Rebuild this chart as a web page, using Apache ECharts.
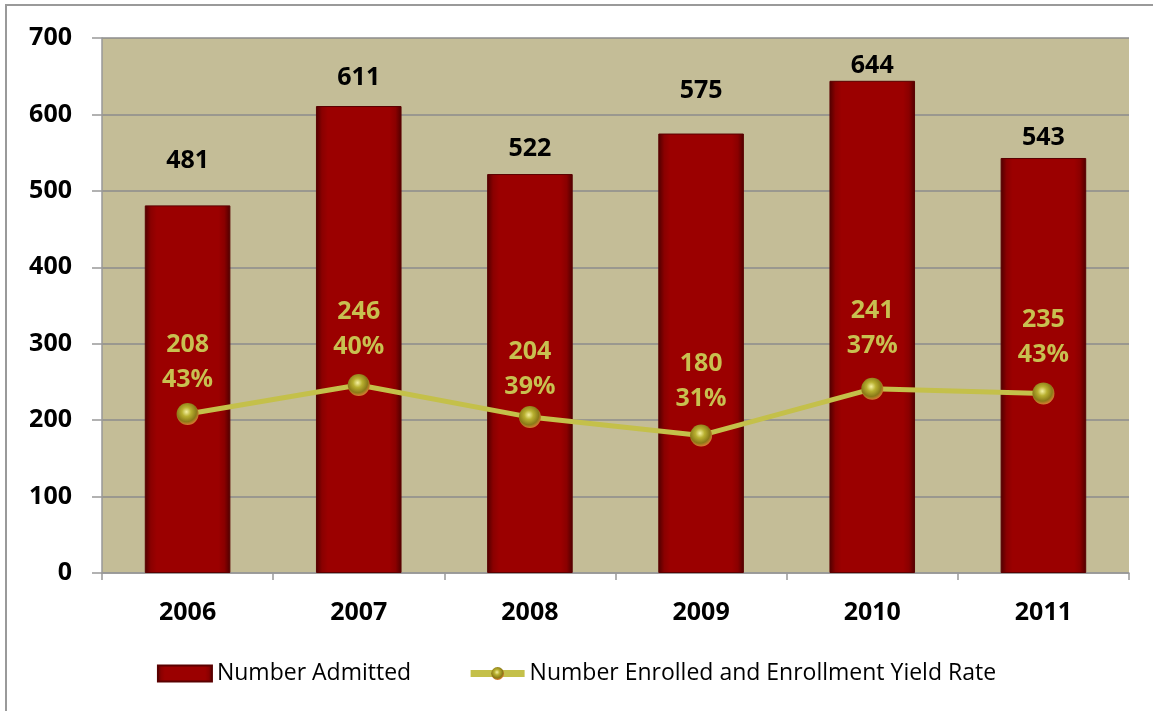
<!DOCTYPE html>
<html>
<head>
<meta charset="utf-8">
<script src="https://cdn.jsdelivr.net/npm/echarts@6/dist/echarts.min.js"></script>
<style>
  html, body { margin: 0; padding: 0; background: #fff; }
  #grafico { width: 1153px; height: 711px; }
</style>
</head>
<body>
<div id="grafico"></div>
<script>
// dados
var anos = ['2006', '2007', '2008', '2009', '2010', '2011'];
var admitidos = [481, 611, 522, 575, 644, 543];
var matriculados = [208, 246, 204, 180, 241, 235];
var taxas = ['43%', '40%', '39%', '31%', '37%', '43%'];

// os rótulos foram posicionados à mão no original
var distRotuloBarra = [32, 16, 13, 30, 2, 8];
var distRotuloLinha = [6, 10, 2, 8, 14, 10];

var fonte = '"Open Sans", "DejaVu Sans", sans-serif';

var corBarra = new echarts.graphic.LinearGradient(0, 0, 1, 0, [
    { offset: 0, color: '#4e0000' },
    { offset: 0.07, color: '#8a0000' },
    { offset: 0.14, color: '#9b0000' },
    { offset: 0.86, color: '#9b0000' },
    { offset: 0.93, color: '#8a0000' },
    { offset: 1, color: '#4e0000' }
]);

var corPonto = new echarts.graphic.RadialGradient(0.45, 0.4, 0.6, [
    { offset: 0, color: '#f4f0a0' },
    { offset: 0.35, color: '#b8b030' },
    { offset: 0.75, color: '#8a7a18' },
    { offset: 1, color: '#d87a30' }
]);

var grafico = echarts.init(document.getElementById('grafico'));

var option = {
    animation: false,
    backgroundColor: '#ffffff',
    graphic: [{
        type: 'rect',
        shape: { x: 6, y: 5, width: 1160, height: 720 },
        style: { fill: 'none', stroke: '#9a9a9a', lineWidth: 2 },
        silent: true
    }],
    grid: {
        left: 102, right: 24, top: 38, bottom: 138,
        show: true,
        backgroundColor: '#c4bd97',
        borderWidth: 0
    },
    legend: {
        bottom: 21,
        left: 'center',
        itemGap: 56,
        itemWidth: 54,
        itemHeight: 16,
        textStyle: { fontFamily: fonte, fontSize: 23, color: '#000' },
        data: [
            { name: 'Number Admitted', icon: 'rect' },
            {
                name: 'Number Enrolled and Enrollment Yield Rate',
                lineStyle: { width: 7 }
            }
        ]
    },
    xAxis: {
        type: 'category',
        data: anos,
        axisLine: { lineStyle: { color: '#999', width: 1.5 } },
        axisTick: { show: true, length: 7, lineStyle: { color: '#999', width: 1.5 } },
        axisLabel: {
            margin: 27,
            fontFamily: fonte, fontSize: 25, fontWeight: 'bold', color: '#000'
        }
    },
    yAxis: {
        type: 'value',
        min: 0, max: 700, interval: 100,
        axisLine: { show: true, lineStyle: { color: '#999', width: 1.5 } },
        axisTick: { show: true, length: 10, lineStyle: { color: '#999', width: 1.5 } },
        splitLine: { lineStyle: { color: '#8c8c8c', width: 1.5 } },
        axisLabel: {
            margin: 30,
            fontFamily: fonte, fontSize: 25, fontWeight: 'bold', color: '#000'
        }
    },
    series: [{
        name: 'Number Admitted',
        type: 'bar',
        data: admitidos.map(function (v, i) {
            return { value: v, label: { distance: distRotuloBarra[i] } };
        }),
        barWidth: '50%',
        itemStyle: {
            color: corBarra,
            borderColor: '#5a0000',
            borderWidth: 1
        },
        label: {
            show: true,
            position: 'top',
            fontFamily: fonte, fontSize: 25, fontWeight: 'bold', color: '#000'
        }
    }, {
        name: 'Number Enrolled and Enrollment Yield Rate',
        type: 'line',
        data: matriculados.map(function (v, i) {
            return { value: v, label: { distance: distRotuloLinha[i] } };
        }),
        symbol: 'circle',
        symbolSize: 22,
        lineStyle: { color: '#c4c04a', width: 5 },
        itemStyle: { color: corPonto, borderWidth: 0 },
        label: {
            show: true,
            position: 'top',
            lineHeight: 35,
            fontFamily: fonte, fontSize: 25, fontWeight: 'bold', color: '#c8c050',
            formatter: function (p) {
                return matriculados[p.dataIndex] + '\n' + taxas[p.dataIndex];
            }
        }
    }]
};

grafico.setOption(option);
</script>
</body>
</html>
